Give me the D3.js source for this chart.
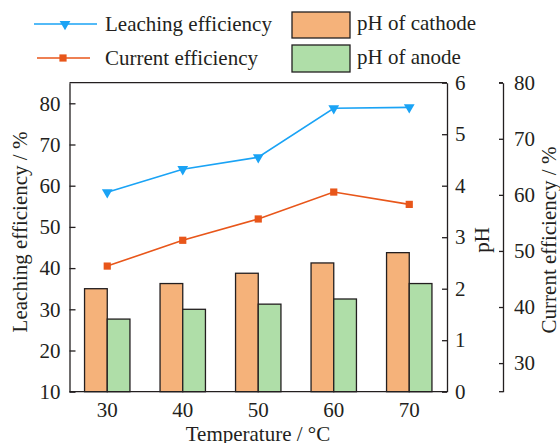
<!DOCTYPE html>
<html><head><meta charset="utf-8">
<script src="https://cdn.jsdelivr.net/npm/d3@7"></script>
<style>body{margin:0;background:#fff}svg{display:block}text{font-family:"Liberation Serif","Times New Roman",serif;fill:#231f20}</style>
</head><body><svg id="c" width="560" height="443"></svg>
<script>
const categories = ["30","40","50","60","70"];
const leaching = [58.4, 64.0, 66.9, 78.8, 79.0];
const current = [47.3, 51.9, 55.7, 60.5, 58.3];
const phCathode = [2.0, 2.1, 2.3, 2.5, 2.7];
const phAnode = [1.41, 1.6, 1.7, 1.8, 2.1];
const leftTicks = [10,20,30,40,50,60,70,80];
const phTicks = [0,1,2,3,4,5,6];
const ceTicks = [30,40,50,60,70,80];

const svg = d3.select("#c");
const L = 69.5, R = 447, T = 82.7, B = 391.7, CEX = 503;
const FS = 21;
const blue = "#1aa3f5", orange = "#e8561a", barO = "#f5b27a", barG = "#afdea8", ink = "#231f20";

const x = d3.scaleBand().domain(categories).range([L, R]).padding(0);
const yL = d3.scaleLinear().domain([10, 85]).range([B, T]);
const yP = d3.scaleLinear().domain([0, 6]).range([B, T]);
const yC = d3.scaleLinear().domain([24.9, 80]).range([B, T]);
const bw = 22.7;

// bars
const g = svg.append("g");
g.selectAll(".bo").data(phCathode).join("rect")
  .attr("x",(d,i)=>x(categories[i])+x.bandwidth()/2-bw).attr("y",d=>yP(d))
  .attr("width",bw).attr("height",d=>B-yP(d))
  .attr("fill",barO).attr("stroke",ink).attr("stroke-width",1.3);
g.selectAll(".bg").data(phAnode).join("rect")
  .attr("x",(d,i)=>x(categories[i])+x.bandwidth()/2).attr("y",d=>yP(d))
  .attr("width",bw).attr("height",d=>B-yP(d))
  .attr("fill",barG).attr("stroke",ink).attr("stroke-width",1.3);

const cx = i => x(categories[i]) + x.bandwidth()/2;
const tri = d3.symbol().type(d3.symbolTriangle).size(50);
// leaching line
svg.append("path").datum(leaching)
  .attr("d", d3.line().x((d,i)=>cx(i)).y(d=>yL(d)))
  .attr("fill","none").attr("stroke",blue).attr("stroke-width",1.6);
svg.selectAll(".tm").data(leaching).join("path")
  .attr("d",tri).attr("transform",(d,i)=>`translate(${cx(i)},${yL(d)}) rotate(180)`).attr("fill",blue);
// current line
svg.append("path").datum(current)
  .attr("d", d3.line().x((d,i)=>cx(i)).y(d=>yC(d)))
  .attr("fill","none").attr("stroke",orange).attr("stroke-width",1.6);
svg.selectAll(".sm").data(current).join("rect")
  .attr("x",(d,i)=>cx(i)-3.6).attr("y",d=>yC(d)-3.6).attr("width",7.2).attr("height",7.2).attr("fill",orange);

// frame
svg.append("line").attr("x1",L).attr("x2",R).attr("y1",T).attr("y2",T).attr("stroke",ink).attr("stroke-width",1.3);
svg.append("line").attr("x1",L).attr("x2",R).attr("y1",B).attr("y2",B).attr("stroke",ink).attr("stroke-width",1.3);

// left axis
const axL = svg.append("g").attr("transform",`translate(${L},0)`)
  .call(d3.axisLeft(yL).tickValues(leftTicks).tickSizeInner(-6).tickSizeOuter(0).tickPadding(9));
// pH axis
const axP = svg.append("g").attr("transform",`translate(${R},0)`)
  .call(d3.axisRight(yP).tickValues(phTicks).tickFormat(d3.format("d")).tickSizeInner(-5).tickSizeOuter(0).tickPadding(8));
// CE axis
const axC = svg.append("g").attr("transform",`translate(${CEX},0)`)
  .call(d3.axisRight(yC).tickValues(ceTicks).tickFormat(d3.format("d")).tickSizeInner(-4).tickSizeOuter(0).tickPadding(11));
// x axis labels
const axX = svg.append("g").attr("transform",`translate(0,${B})`)
  .call(d3.axisBottom(x).tickSize(0).tickPadding(10));
axX.select(".domain").remove();
[axL,axP,axC,axX].forEach(a=>{
  a.selectAll("text").attr("font-size",FS).attr("font-family","Liberation Serif").attr("fill",ink);
  a.selectAll("line,.domain").attr("stroke",ink).attr("stroke-width",1.3);
});
svg.append("line").attr("x1",CEX-4).attr("x2",CEX).attr("y1",T).attr("y2",T).attr("stroke",ink).attr("stroke-width",1.3);
svg.append("line").attr("x1",CEX-4).attr("x2",CEX).attr("y1",B).attr("y2",B).attr("stroke",ink).attr("stroke-width",1.3);

// titles
svg.append("text").attr("transform","translate(27,232) rotate(-90)").attr("text-anchor","middle").attr("font-size",FS).text("Leaching efficiency / %");
svg.append("text").attr("transform","translate(489,240) rotate(-90)").attr("text-anchor","middle").attr("font-size",FS).text("pH");
svg.append("text").attr("transform","translate(556,240) rotate(-90)").attr("text-anchor","middle").attr("font-size",FS).text("Current efficiency / %");
svg.append("text").attr("x",258).attr("y",441).attr("text-anchor","middle").attr("font-size",FS).text("Temperature / \u00B0C");

// legend
const lg = svg.append("g");
lg.append("line").attr("x1",34).attr("x2",97).attr("y1",24).attr("y2",24).attr("stroke",blue).attr("stroke-width",1.6);
lg.append("path").attr("d",tri).attr("transform","translate(65,24) rotate(180)").attr("fill",blue);
lg.append("text").attr("x",105).attr("y",31).attr("font-size",FS).text("Leaching efficiency");
lg.append("line").attr("x1",37).attr("x2",90).attr("y1",58).attr("y2",58).attr("stroke",orange).attr("stroke-width",1.6);
lg.append("rect").attr("x",59.4).attr("y",54.4).attr("width",7.2).attr("height",7.2).attr("fill",orange);
lg.append("text").attr("x",105).attr("y",65).attr("font-size",FS).text("Current efficiency");
lg.append("rect").attr("x",292).attr("y",12).attr("width",58).attr("height",26).attr("fill",barO).attr("stroke",ink).attr("stroke-width",1.3);
lg.append("text").attr("x",357).attr("y",30).attr("font-size",FS).text("pH of cathode");
lg.append("rect").attr("x",292).attr("y",45).attr("width",58).attr("height",27).attr("fill",barG).attr("stroke",ink).attr("stroke-width",1.3);
lg.append("text").attr("x",357).attr("y",64).attr("font-size",FS).text("pH of anode");
</script></body></html>
